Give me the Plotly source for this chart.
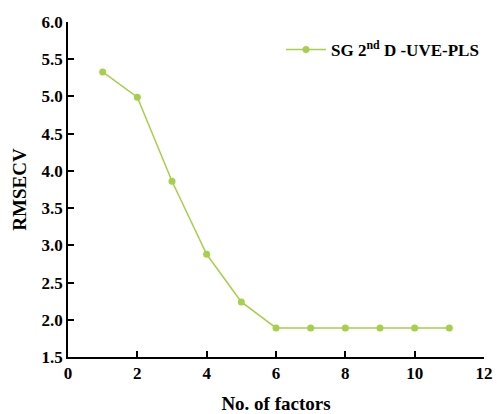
import plotly.graph_objects as go

factors = [1, 2, 3, 4, 5, 6, 7, 8, 9, 10, 11]
rmsecv = [5.33, 4.99, 3.86, 2.88, 2.24, 1.89, 1.89, 1.89, 1.89, 1.89, 1.89]
series_name = "SG 2<sup>nd</sup> D -UVE-PLS"
x_ticks = [0, 2, 4, 6, 8, 10, 12]
y_ticks = [1.5, 2.0, 2.5, 3.0, 3.5, 4.0, 4.5, 5.0, 5.5, 6.0]

color = "#a6cf4a"
font_family = "Liberation Serif, Times New Roman, serif"

fig = go.Figure()
fig.add_trace(go.Scatter(
    x=factors, y=rmsecv, mode="lines+markers", name=series_name,
    line=dict(color=color, width=1.5),
    marker=dict(color=color, size=7),
))

fig.update_layout(
    template="none",
    width=497, height=414,
    margin=dict(l=68, r=13, t=22, b=57, autoexpand=False),
    paper_bgcolor="white", plot_bgcolor="white",
    font=dict(family=font_family, color="black"),
    showlegend=True,
    legend=dict(x=1.0, y=0.97, xanchor="right", yanchor="top",
                font=dict(size=17, family=font_family, weight="bold"),
                bgcolor="rgba(0,0,0,0)", itemwidth=40),
    xaxis=dict(range=[0, 12], tickvals=x_ticks, ticktext=[str(v) for v in x_ticks],
               automargin=False,
               showgrid=False, zeroline=False, showline=True, linecolor="black", linewidth=1.5,
               ticks="inside", ticklen=6, tickcolor="black", tickwidth=1.5,
               tickfont=dict(size=17, weight="bold"),
               title=dict(text="No. of factors", font=dict(size=19, weight="bold"), standoff=17)),
    yaxis=dict(range=[1.5, 6.0], tickvals=y_ticks, ticktext=[f"{v:.1f}" for v in y_ticks],
               automargin=False,
               showgrid=False, zeroline=False, showline=True, linecolor="black", linewidth=1.5,
               ticks="inside", ticklen=6, tickcolor="black", tickwidth=1.5,
               tickfont=dict(size=17, weight="bold"),
               title=dict(text="RMSECV", font=dict(size=19, weight="bold"), standoff=10)),
)

fig.write_html("out.html", config={"displayModeBar": False},
               post_script="document.body.style.margin='0';")
